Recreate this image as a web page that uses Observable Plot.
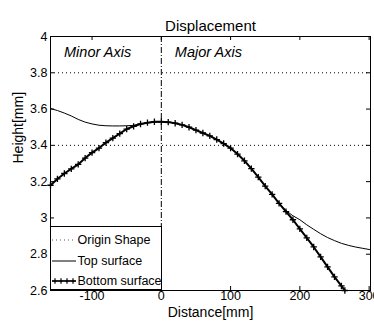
<!DOCTYPE html>
<html><head><meta charset="utf-8">
<script src="https://cdn.jsdelivr.net/npm/d3@7"></script>
<script src="https://cdn.jsdelivr.net/npm/@observablehq/plot@0.6"></script>
<style>
body{margin:0;background:#fff;}
#wrap{position:relative;width:374px;height:322px;overflow:hidden;}
#wrap svg{position:absolute;left:0;top:0;}
</style></head><body><div id="wrap"></div>
<script>
// Bottom surface (mm)
const bottomDistance = [-160,-150,-140,-130,-120,-110,-100,-90,-80,-70,-60,-50,-40,-30,-20,-10,0,10,20,30,40,50,60,70,80,90,100,110,120,130,140,150,160,170,180,190,200,210,220,230,240,250,260,265];
const bottomHeight = [3.18,3.215,3.245,3.27,3.295,3.33,3.36,3.385,3.415,3.44,3.465,3.49,3.505,3.518,3.525,3.53,3.53,3.528,3.522,3.513,3.5,3.484,3.468,3.452,3.432,3.41,3.385,3.352,3.315,3.272,3.225,3.175,3.13,3.08,3.035,2.99,2.94,2.89,2.84,2.785,2.73,2.675,2.625,2.6];
// Top surface (mm)
const topDistance = [-160,-150,-140,-130,-120,-110,-100,-90,-80,-70,-60,-50,-40,-30,-20,-10,0,10,20,30,40,50,60,70,80,90,100,110,120,130,140,150,160,170,180,190,200,210,220,230,240,250,260,270,280,290,300,302];
const topHeight = [3.603,3.592,3.578,3.562,3.543,3.528,3.518,3.511,3.508,3.507,3.507,3.508,3.51,3.518,3.525,3.53,3.53,3.528,3.522,3.513,3.5,3.484,3.468,3.452,3.432,3.41,3.385,3.352,3.315,3.272,3.225,3.175,3.13,3.08,3.04,3.012,2.99,2.962,2.937,2.913,2.892,2.875,2.86,2.849,2.84,2.833,2.826,2.825];
const xTicks = [-100,0,100,200,300];
const yTicks = [2.6,2.8,3,3.2,3.4,3.6,3.8,4];
const gridHeights = [3.4,3.8];
const regionLabels = ["Minor Axis","Major Axis"];
const regionLabelX = [-92,68];
const regionLabelY = [3.915,3.915];
const legendNames = ["Origin Shape","Top surface","Bottom surface"];

const bottomRows = bottomDistance.map((d,i)=>({x:d,y:bottomHeight[i]}));
const topRows = topDistance.map((d,i)=>({x:d,y:topHeight[i]}));
const labelRows = regionLabels.map((t,i)=>({t,x:regionLabelX[i],y:regionLabelY[i]}));

const font = "'Liberation Sans', Arial, Helvetica, sans-serif";
const chart = Plot.plot({
  width: 374, height: 322,
  marginTop: 36, marginRight: 4, marginBottom: 32, marginLeft: 50,
  style: {fontFamily: font, fontSize: "12px", color: "#000", background: "#fff", overflow: "visible"},
  x: {domain: [-160, 302]},
  y: {domain: [2.6, 4]},
  marks: [
    Plot.ruleY(gridHeights, {stroke: "#000", strokeDasharray: "1,3", strokeWidth: 1}),
    Plot.ruleX([0], {stroke: "#000", strokeDasharray: "6,2,1,2", strokeWidth: 1}),
    Plot.line(topRows, {x: "x", y: "y", stroke: "#000", strokeWidth: 1}),
    Plot.line(bottomRows, {x: "x", y: "y", stroke: "#000", strokeWidth: 2}),
    Plot.dot(bottomRows, {x: "x", y: "y", symbol: "plus", r: 2.2, stroke: "#000", strokeWidth: 1.3}),
    Plot.text(labelRows, {x: "x", y: "y", text: "t", fontStyle: "italic", fontSize: 14.5}),
    Plot.ruleX(xTicks, {insetTop: 250, stroke: "#000"}),
    Plot.ruleX(xTicks, {insetBottom: 250, stroke: "#000"}),
    Plot.ruleY(yTicks, {insetRight: 316, stroke: "#000"}),
    Plot.ruleY(yTicks, {insetLeft: 316, stroke: "#000"}),
    Plot.axisX(xTicks, {tickSize: 0, tickPadding: 1, label: null, fontSize: 12.5, tickFormat: d => String(d)}),
    Plot.axisY(yTicks, {tickSize: 0, tickPadding: 3, label: null, fontSize: 12.5, tickFormat: d => String(d)}),
    Plot.frame({stroke: "#000"}),
    Plot.text(["Displacement"], {text: d => d, frameAnchor: "top", dy: -16, fontSize: 15}),
    Plot.text(["Height[mm]"], {text: d => d, frameAnchor: "left", dx: -32, rotate: -90, fontSize: 14}),
    Plot.text(["Distance[mm]"], {text: d => d, frameAnchor: "bottom", dy: 26, fontSize: 14})
  ]
});
document.getElementById("wrap").appendChild(chart);

// Legend overlay
const lg = d3.select("#wrap").append("svg").attr("width", 374).attr("height", 322)
  .style("font-family", font);
lg.append("rect").attr("x", 50.5).attr("y", 226.5).attr("width", 111).attr("height", 63)
  .attr("fill", "#fff").attr("stroke", "#000");
const rowsY = [240, 261, 281];
legendNames.forEach((name, i) => {
  const y = rowsY[i];
  const line = lg.append("line").attr("x1", 52).attr("x2", 76).attr("y1", y).attr("y2", y).attr("stroke", "#000");
  if (i === 0) line.attr("stroke-dasharray", "1,3").attr("stroke", "#555");
  if (i === 2) {
    line.attr("stroke-width", 1.5);
    [55, 61, 67, 73].forEach(px => {
      lg.append("path").attr("d", `M${px-2.8},${y}h5.6M${px},${y-2.8}v5.6`).attr("stroke", "#000").attr("stroke-width", 1.2);
    });
  }
  lg.append("text").attr("x", 77.5).attr("y", y).attr("dy", "0.35em").attr("font-size", 12.5).text(name);
});
</script></body></html>
